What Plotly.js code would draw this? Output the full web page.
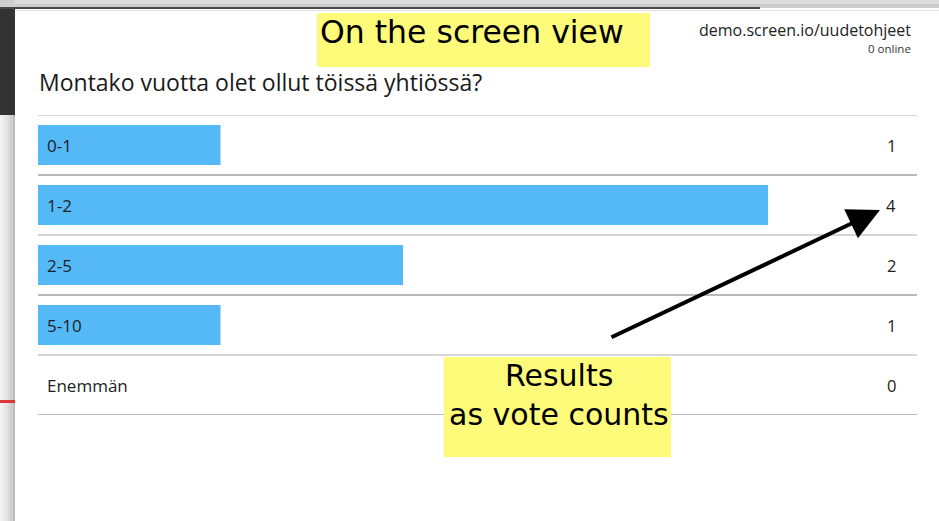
<!DOCTYPE html>
<html>
<head>
<meta charset="utf-8">
<script src="https://cdn.plot.ly/plotly-3.0.1.min.js"></script>
<style>html,body{margin:0;padding:0;background:#fff;}#chart{width:939px;height:521px;}</style>
</head>
<body>
<div id="chart"></div>
<script>
const categories = ['0-1', '1-2', '2-5', '5-10', 'Enemmän'];
const votes = [1, 4, 2, 1, 0];
const question = 'Montako vuotta olet ollut töissä yhtiössä?';
const siteUrl = 'demo.screen.io/uudetohjeet';
const onlineText = '0 online';
const noteTop = 'On the screen view';
const noteBottom = ['Results', 'as vote counts'];

const W = 939, H = 521;
const px = v => v / W;
const py = v => 1 - v / H;
const uiFont = 'Open Sans, Noto Sans, sans-serif';
const noteFont = 'DejaVu Sans, Verdana, sans-serif';
const barColor = '#55b9f7';

const trace = {
  type: 'bar',
  orientation: 'h',
  y: categories,
  x: votes,
  marker: {color: barColor, line: {width: 0}},
  width: 0.667,
  hoverinfo: 'skip'
};

const shapes = [];
// left dark strip & gray gradient (window chrome behind card)
shapes.push({type:'rect', xref:'paper', yref:'paper', x0:0, x1:px(15), y0:py(0), y1:py(8), fillcolor:'#cfcfcf', line:{width:0}, layer:'below'});
shapes.push({type:'rect', xref:'paper', yref:'paper', x0:0, x1:px(15), y0:py(8), y1:py(115), fillcolor:'#333333', line:{width:0}, layer:'below'});
const grads = ['#f2f2f2','#ececec','#e4e4e4','#dadada','#cdcdcd','#bdbdbd'];
grads.forEach((c, i) => {
  shapes.push({type:'rect', xref:'paper', yref:'paper', x0:px(i*2.5), x1:px((i+1)*2.5), y0:py(115), y1:py(521), fillcolor:c, line:{width:0}, layer:'below'});
});
shapes.push({type:'rect', xref:'paper', yref:'paper', x0:0, x1:px(15), y0:py(400), y1:py(403), fillcolor:'#d9393a', line:{width:0}, layer:'below'});
// top band
shapes.push({type:'rect', xref:'paper', yref:'paper', x0:px(15), x1:1, y0:py(0), y1:py(4), fillcolor:'#dcdcdc', line:{width:0}, layer:'below'});
shapes.push({type:'rect', xref:'paper', yref:'paper', x0:px(15), x1:1, y0:py(4), y1:py(8), fillcolor:'#cccccc', line:{width:0}, layer:'below'});
shapes.push({type:'rect', xref:'paper', yref:'paper', x0:0, x1:px(760), y0:py(7), y1:py(9), fillcolor:'#4a4a4a', line:{width:0}, layer:'below'});
shapes.push({type:'line', xref:'paper', yref:'paper', x0:px(15), x1:1, y0:py(10.5), y1:py(10.5), line:{color:'#e2e2e2', width:1}, layer:'below'});

// row separators
for (let i = 0; i <= categories.length; i++) {
  shapes.push({type:'line', xref:'paper', yref:'y', x0:px(38), x1:px(917), y0:i - 0.5, y1:i - 0.5,
    line:{color: i % 2 === 0 ? '#d6d6d6' : '#bababa', width:2}, layer:'below'});
}

// yellow note boxes
shapes.push({type:'rect', xref:'paper', yref:'paper', x0:px(317), x1:px(650), y0:py(67), y1:py(13), fillcolor:'#fffb7a', line:{width:0}, layer:'above'});
shapes.push({type:'rect', xref:'paper', yref:'paper', x0:px(444), x1:px(671), y0:py(457), y1:py(357), fillcolor:'#fffb7a', line:{width:0}, layer:'above'});

const annotations = [];
annotations.push({xref:'paper', yref:'paper', x:px(37), y:py(82), xanchor:'left', yanchor:'middle', text:question, showarrow:false, font:{family:uiFont, size:23, color:'#1a1a1a'}});
annotations.push({xref:'paper', yref:'paper', x:px(913), y:py(30), xanchor:'right', yanchor:'middle', text:siteUrl, showarrow:false, font:{family:uiFont, size:16, color:'#222'}});
annotations.push({xref:'paper', yref:'paper', x:px(913), y:py(48), xanchor:'right', yanchor:'middle', text:onlineText, showarrow:false, font:{family:uiFont, size:11.5, color:'#333'}});

categories.forEach((c, i) => {
  annotations.push({xref:'x', yref:'y', x:0, y:c, xshift:7, xanchor:'left', yanchor:'middle', text:c, showarrow:false, font:{family:uiFont, size:17, color:'#1e1e1e'}});
  annotations.push({xref:'paper', yref:'y', x:px(891), y:c, xanchor:'center', yanchor:'middle', text:String(votes[i]), showarrow:false, font:{family:uiFont, size:16.5, color:'#222'}});
});

// notes text
annotations.push({xref:'paper', yref:'paper', x:px(318), y:py(32), xanchor:'left', yanchor:'middle', text:noteTop, showarrow:false, font:{family:noteFont, size:31.5, color:'#000'}});
annotations.push({xref:'paper', yref:'paper', x:px(559), y:py(375), xanchor:'center', yanchor:'middle', text:noteBottom[0], showarrow:false, font:{family:noteFont, size:30, color:'#000'}});
annotations.push({xref:'paper', yref:'paper', x:px(559), y:py(414), xanchor:'center', yanchor:'middle', text:noteBottom[1], showarrow:false, font:{family:noteFont, size:30, color:'#000'}});

// arrow
annotations.push({xref:'paper', yref:'paper', x:px(880), y:py(210), axref:'pixel', ayref:'pixel', ax:-270, ay:128,
  text:'', showarrow:true, arrowhead:2, arrowsize:1.6, arrowwidth:4, arrowcolor:'#000'});

const layout = {
  width: W, height: H,
  margin: {l:0, r:0, t:0, b:0, pad:0},
  paper_bgcolor: '#ffffff',
  plot_bgcolor: 'rgba(0,0,0,0)',
  showlegend: false,
  xaxis: {domain:[px(38), px(917)], range:[0, 879/182.5], visible:false, fixedrange:true},
  yaxis: {type:'category', domain:[(H-415)/H, (H-115)/H], range:[categories.length - 0.5, -0.5], visible:false, fixedrange:true},
  shapes: shapes,
  annotations: annotations
};

Plotly.newPlot('chart', [trace], layout, {displayModeBar:false, staticPlot:true});
</script>
</body>
</html>
